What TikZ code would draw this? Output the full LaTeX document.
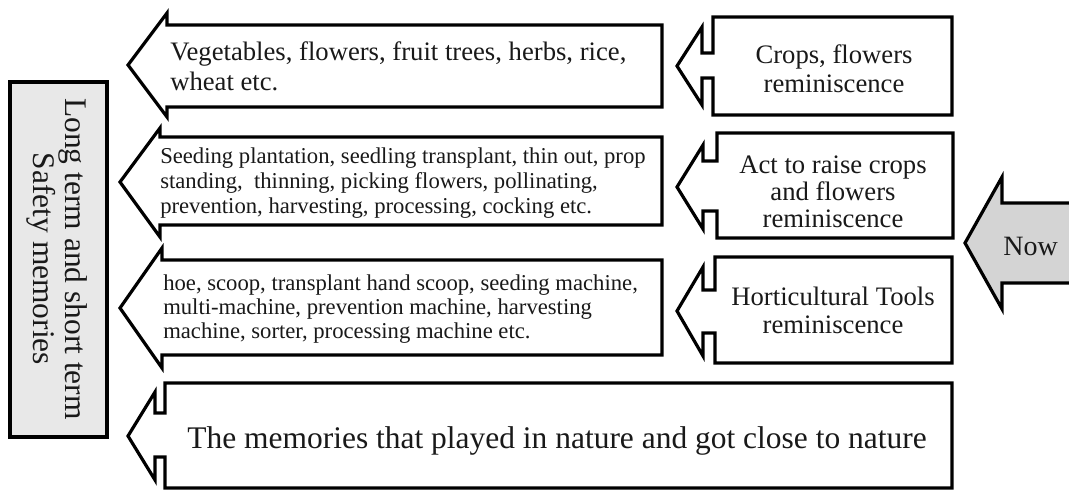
\documentclass[tikz,border=0pt]{standalone}
\usepackage{fontspec}
\setmainfont{Liberation Serif}
\newcommand\lftlines[1]{\vtop{\halign{##\hfil\cr#1\crcr}}}
\newcommand\ctrlines[1]{\vtop{\halign{\hfil##\hfil\cr#1\crcr}}}
\begin{document}
\begin{tikzpicture}[x=0.75pt,y=-0.75pt,
  outline/.style={draw=black, line width=2.4pt, line join=miter, fill=white},
  txtbig/.style={font=\fontsize{20}{22.5}\selectfont, inner sep=0pt, text=black!90},
  txtsmall/.style={font=\fontsize{17}{18.75}\selectfont, inner sep=0pt, text=black!90},
  txtbox/.style={font=\fontsize{20}{21.5}\selectfont, inner sep=0pt, text=black!90},
  txthuge/.style={font=\fontsize{23.6}{24.5}\selectfont, inner sep=0pt, text=black!90}]
\useasboundingbox (0,0) rectangle (1069,489);
\clip (0,0) rectangle (1069,489);
\fill[white] (0,0) rectangle (1069,489);

% left side box
\draw[outline, fill=black!9] (10,82) rectangle (107,437);
\node[txthuge, rotate=-90, align=center] (safety) at (57,259) {Long term and short term\\Safety memories};

% left arrows
\draw[outline] (662,25) -- (167,25) -- (167,13) -- (128,65) -- (167,117) -- (167,107) -- (662,107) -- cycle;
\node[txtbig, anchor=base west] (veg) at (170,60) {\lftlines{Vegetables, flowers, fruit trees, herbs, rice,\cr wheat etc.}};

\draw[outline] (662,137) -- (160,137) -- (160,128) -- (120,182) -- (160,237) -- (160,225) -- (662,225) -- cycle;
\node[txtsmall, anchor=base west] (act) at (160,163) {\lftlines{Seeding plantation, seedling transplant, thin out, prop\cr standing,\ \ thinning, picking flowers, pollinating,\cr prevention, harvesting, processing, cocking etc.}};

\draw[outline] (662,260) -- (162,260) -- (162,248) -- (120,308) -- (162,368) -- (162,355) -- (662,355) -- cycle;
\node[txtsmall, anchor=base west, font=\fontsize{17}{18}\selectfont] (tools) at (163,290) {\lftlines{hoe, scoop, transplant hand scoop, seeding machine,\cr multi-machine, prevention machine, harvesting\cr machine, sorter, processing machine etc.}};

% bottom arrow
\draw[outline] (952,488) -- (952,383) -- (165,383) -- (165,413) -- (155,413) -- (155,392) -- (128,436) -- (155,480) -- (155,457) -- (165,457) -- (165,488) -- cycle;
\node[txthuge, anchor=base] (nature) at (557,448) {The memories that played in nature and got close to nature};

% right boxes
\draw[outline] (713,17) -- (952,17) -- (952,115) -- (713,115) -- (713,78) -- (702,78) -- (702,105) -- (677,66) -- (702,27) -- (702,53) -- (713,53) -- cycle;
\node[txtbox, anchor=base, font=\fontsize{20}{21.75}\selectfont] (crops) at (834,63) {\ctrlines{Crops, flowers\cr reminiscence}};

\draw[outline] (717,133) -- (953,133) -- (953,238) -- (717,238) -- (717,211) -- (703,211) -- (703,229) -- (677,187) -- (703,145) -- (703,161) -- (717,161) -- cycle;
\node[txtbox, anchor=base, font=\fontsize{20}{20.5}\selectfont] (raise) at (833,173) {\ctrlines{Act to raise crops\cr and flowers\cr reminiscence}};

\draw[outline] (715,257) -- (952,257) -- (952,363) -- (715,363) -- (715,333) -- (703,333) -- (703,356) -- (677,311) -- (703,267) -- (703,290) -- (715,290) -- cycle;
\node[txtbox, anchor=base, font=\fontsize{20}{21}\selectfont] (hort) at (833,305) {\ctrlines{Horticultural Tools\cr reminiscence}};

% Now arrow
\draw[outline, fill=black!17] (1080,203) -- (1002,203) -- (1002,177) -- (965,243) -- (1002,309) -- (1002,283) -- (1080,283) -- cycle;
\node[txtbox, anchor=base west, font=\fontsize{21}{22}\selectfont] (now) at (1003,255) {Now};
\end{tikzpicture}
\end{document}
